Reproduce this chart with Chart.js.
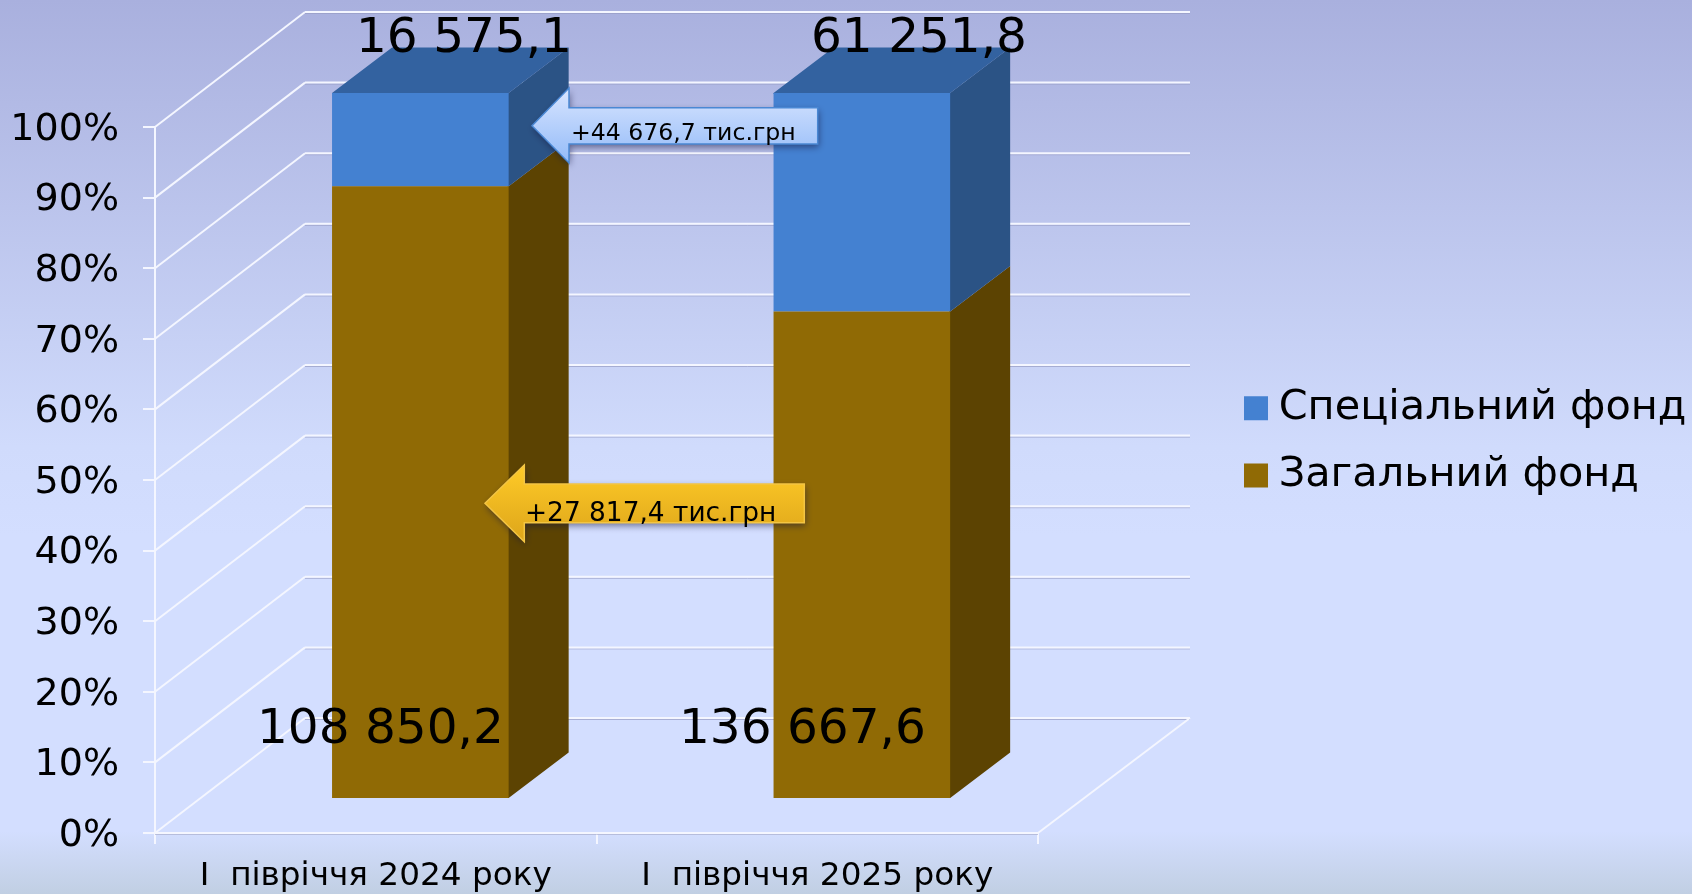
<!DOCTYPE html>
<html><head><meta charset="utf-8">
<style>html,body{margin:0;padding:0;background:#d3deff;overflow:hidden}canvas{display:block}</style>
<script src="https://cdn.jsdelivr.net/npm/chart.js@4"></script>
</head><body>
<canvas id="c" width="1692" height="894" style="width:1692px;height:894px"></canvas>
<script>
const categories = ["I  півріччя 2024 року", "I  півріччя 2025 року"];
const generalFund = [108850.2, 136667.6];
const specialFund = [16575.1, 61251.8];
const generalLabels = ["108 850,2", "136 667,6"];
const specialLabels = ["16 575,1", "61 251,8"];
const generalName = "Загальний фонд";
const specialName = "Спеціальний фонд";
const generalShare = generalFund.map((v, i) => v / (v + specialFund[i]) * 100);
const specialShare = specialFund.map((v, i) => v / (v + generalFund[i]) * 100);
const yTicks = [0,10,20,30,40,50,60,70,80,90,100];
const arrowTexts = ["+44 676,7 тис.грн", "+27 817,4 тис.грн"];

const FONT = '"DejaVu Sans"';
const WALL = {dx:150, dy:-115};
const BAR = {dx:44.6, dy:-34, ddx:60, ddy:-45.5};

function line(ctx,x1,y1,x2,y2,col,w){ctx.strokeStyle=col;ctx.lineWidth=w;ctx.beginPath();ctx.moveTo(x1,y1);ctx.lineTo(x2,y2);ctx.stroke();}
function poly(ctx,pts,col){ctx.fillStyle=col;ctx.beginPath();pts.forEach((p,i)=>i?ctx.lineTo(p[0],p[1]):ctx.moveTo(p[0],p[1]));ctx.closePath();ctx.fill();}

function arrow(ctx,a){
  ctx.save();
  const g=ctx.createLinearGradient(0,a.top,0,a.bot);
  g.addColorStop(0,a.c1);g.addColorStop(1,a.c2);
  ctx.beginPath();
  ctx.moveTo(a.tip,a.mid);ctx.lineTo(a.neck,a.hTop);ctx.lineTo(a.neck,a.sTop);ctx.lineTo(a.right,a.sTop);
  ctx.lineTo(a.right,a.sBot);ctx.lineTo(a.neck,a.sBot);ctx.lineTo(a.neck,a.hBot);ctx.closePath();
  ctx.shadowColor='rgba(20,20,60,0.55)';ctx.shadowBlur=7;ctx.shadowOffsetX=1;ctx.shadowOffsetY=3;
  ctx.fillStyle=g;ctx.fill();
  ctx.shadowColor='transparent';
  ctx.strokeStyle=a.border;ctx.lineWidth=1.5;ctx.stroke();
  ctx.restore();
  ctx.fillStyle='#000';ctx.font=a.size+'px '+FONT;ctx.textAlign='left';ctx.textBaseline='alphabetic';
  ctx.fillText(a.text,a.tx,a.ty);
}

const bgPlugin={id:'bg',beforeDraw(chart){
  const ctx=chart.ctx,g=ctx.createLinearGradient(0,0,0,894);
  g.addColorStop(0,'#a9b0de');g.addColorStop(0.5,'#d0dbfc');g.addColorStop(0.6,'#d3deff');
  g.addColorStop(0.93,'#d3deff');g.addColorStop(1,'#c1cfe3');
  ctx.fillStyle=g;ctx.fillRect(0,0,1692,894);
}};

const legendPlace={id:'legendPlace',afterLayout(chart){
  const l=chart.legend;
  l.left=1228;l.top=361.5;l.right=l.left+l.width+60;l.bottom=l.top+l.height+20;
}};

const scene={id:'scene',
  beforeDatasetsDraw(chart){
    const ctx=chart.ctx,y=chart.scales.y,a=chart.chartArea;
    ctx.save();
    yTicks.forEach(t=>{
      const py=y.getPixelForValue(t);
      const bx1=a.left+WALL.dx,bx2=a.right+152,by=py+WALL.dy;
      line(ctx,bx1,by+1.5,bx2,by+1.5,'rgba(150,155,195,0.7)',1);
      line(ctx,bx1,by,bx2,by,'#f4f6ff',2);
      line(ctx,a.left,py,bx1,by,'#f4f6ff',2);
    });
    const py0=y.getPixelForValue(0);
    line(ctx,a.left,py0+1.5,a.right,py0+1.5,'rgba(170,175,205,0.7)',1);
    line(ctx,a.left,py0,a.right,py0,'#f4f6ff',2);
    line(ctx,a.right,py0,a.right+152,py0+WALL.dy,'#f4f6ff',2);
    const styles=[{side:'#5c4302',top:'#5c4302'},{side:'#2b5385',top:'#3362a0'}];
    chart.data.datasets.forEach((ds,di)=>{
      chart.getDatasetMeta(di).data.forEach(el=>{
        const L=el.x-el.width/2+BAR.dx,R=el.x+el.width/2+BAR.dx,T=el.y+BAR.dy,B=el.base+BAR.dy;
        poly(ctx,[[R-1,T],[R,T],[R+BAR.ddx,T+BAR.ddy],[R+BAR.ddx,B+BAR.ddy],[R,B],[R-1,B]],styles[di].side);
        if(di===1) poly(ctx,[[L,T+1],[L,T],[L+BAR.ddx,T+BAR.ddy],[R+BAR.ddx,T+BAR.ddy],[R,T],[R,T+1]],styles[di].top);
      });
    });
    ctx.restore();
    ctx.save();
    ctx.translate(BAR.dx,BAR.dy);
  },
  afterDatasetsDraw(chart){
    const ctx=chart.ctx;
    ctx.restore();
    ctx.save();
    ctx.fillStyle='#000';ctx.textAlign='left';ctx.textBaseline='alphabetic';ctx.font='48.5px '+FONT;
    ctx.fillText(specialLabels[0],356,52);
    ctx.fillText(specialLabels[1],811,52);
    ctx.fillText(generalLabels[0],257,743);
    ctx.fillText(generalLabels[1],679,743);
    arrow(ctx,{tip:532,mid:125.7,neck:569,hTop:88,hBot:163,sTop:107.7,sBot:144,right:817.7,top:88,bot:163,
      c1:'#d9e5ff',c2:'#93bbf8',border:'#4a88d4',text:arrowTexts[0],size:23.6,tx:571,ty:140});
    arrow(ctx,{tip:485,mid:503.3,neck:524.3,hTop:465,hBot:541.7,sTop:484,sBot:522.7,right:804.3,top:465,bot:541.7,
      c1:'#ffcb28',c2:'#dda51a',border:'#f3c544',text:arrowTexts[1],size:26.4,tx:525,ty:521});
    ctx.restore();
  }
};

new Chart(document.getElementById('c'),{
  type:'bar',
  data:{labels:categories,datasets:[
    {label:generalName,data:generalShare,backgroundColor:'#906a05',borderWidth:0,categoryPercentage:0.4,barPercentage:1},
    {label:specialName,data:specialShare,backgroundColor:'#4481d1',borderWidth:0,categoryPercentage:0.4,barPercentage:1}
  ]},
  options:{
    responsive:false,animation:false,devicePixelRatio:1,
    layout:{padding:{top:127,right:654,left:0,bottom:0}},
    plugins:{
      tooltip:{enabled:false},title:{display:false},
      legend:{position:'chartArea',align:'start',reverse:true,
        labels:{boxWidth:4,boxHeight:4,padding:26,color:'#000',font:{family:FONT,size:41.4},
          generateLabels(chart){
            return Chart.defaults.plugins.legend.labels.generateLabels(chart).map(it=>({...it,lineWidth:20,strokeStyle:it.fillStyle}));
          }}}
    },
    scales:{
      x:{stacked:true,afterFit:s=>{s.height=61;},
        grid:{drawOnChartArea:false,drawTicks:true,tickLength:11,color:'#f4f6ff',lineWidth:2,offset:true},
        border:{display:false},
        ticks:{color:'#000',font:{family:FONT,size:32.7},padding:13,maxRotation:0,autoSkip:false}},
      y:{stacked:true,min:0,max:100,afterFit:s=>{s.width=155;},
        afterBuildTicks:s=>{s.ticks=yTicks.map(v=>({value:v}));},
        grid:{drawOnChartArea:false,drawTicks:true,tickLength:12,color:'#f4f6ff',lineWidth:2},
        border:{display:true,color:'#f4f6ff',width:2},
        ticks:{color:'#000',font:{family:FONT,size:38},padding:24,labelOffset:3,callback:v=>v+'%'}}
    }
  },
  plugins:[bgPlugin,legendPlace,scene]
});
</script>
</body></html>
